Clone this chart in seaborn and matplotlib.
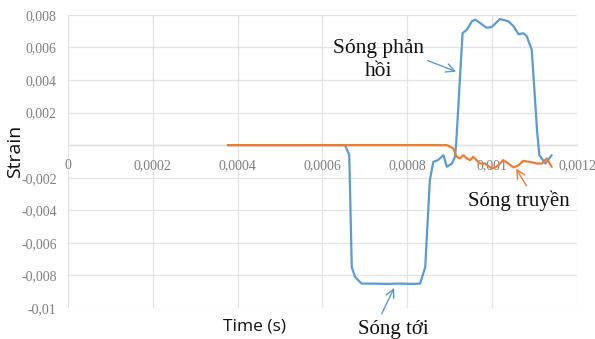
import matplotlib
matplotlib.use("Agg")
import matplotlib.pyplot as plt
import seaborn as sns
import pandas as pd

# Blue series (incident + reflected wave)
blue_time = [0.000377, 0.00064, 0.000653, 0.000663, 0.000669, 0.000677, 0.000692, 0.00072, 0.00075,
             0.00078, 0.00081, 0.00083, 0.000842, 0.000853, 0.000861, 0.000872, 0.000885, 0.000893,
             0.000905, 0.000912, 0.000915, 0.00093, 0.00094, 0.000952, 0.00096, 0.000971, 0.000987,
             0.000999, 0.001018, 0.001038, 0.00105, 0.001062, 0.001073, 0.001081, 0.001093, 0.001106,
             0.001111, 0.001125, 0.00114]
blue_strain = [0.0, 0.0, 0.0, -0.0006, -0.0075, -0.0081, -0.0085, -0.0085, -0.00852,
               -0.0085, -0.00852, -0.0085, -0.0075, -0.00215, -0.00103, -0.00092, -0.00062, -0.00133,
               -0.00113, -0.00072, 0.0001, 0.00687, 0.00708, 0.0076, 0.0077, 0.0075, 0.0072,
               0.00725, 0.00774, 0.0076, 0.0073, 0.0068, 0.00687, 0.0067, 0.00585, 0.00072,
               -0.00062, -0.00113, -0.00062]

# Orange series (transmitted wave)
orange_time = [0.000377, 0.00085, 0.000893, 0.000908, 0.000916, 0.000924, 0.000932, 0.00094, 0.000948,
               0.000955, 0.000971, 0.000983, 0.000999, 0.00101, 0.001026, 0.001038, 0.00105, 0.001062,
               0.001073, 0.001089, 0.001105, 0.001117, 0.001128, 0.00114]
orange_strain = [0.0, 0.0, 0.0, -0.0002, -0.00072, -0.00082, -0.00062, -0.00082, -0.00092,
                 -0.00072, -0.00113, -0.00113, -0.00144, -0.00133, -0.00092, -0.00113, -0.00137, -0.00123,
                 -0.00097, -0.00103, -0.00113, -0.00113, -0.00082, -0.00133]

x_ticks = [0, 0.0002, 0.0004, 0.0006, 0.0008, 0.001, 0.0012]
x_labels = ["0", "0,0002", "0,0004", "0,0006", "0,0008", "0,001", "0,0012"]
y_ticks = [-0.01, -0.008, -0.006, -0.004, -0.002, 0, 0.002, 0.004, 0.006, 0.008]
y_labels = ["-0,01", "-0,008", "-0,006", "-0,004", "-0,002", "", "0,002", "0,004", "0,006", "0,008"]

sns.set_theme(style="white")
plt.rcParams['font.family'] = ['Liberation Serif', 'DejaVu Serif']

BLUE = "#5B9BD5"
ORANGE = "#ED7D31"

fig = plt.figure(figsize=(5.95, 3.39), dpi=100)
ax = fig.add_axes([0.114, 0.0914, 0.856, 0.865])

blue_df = pd.DataFrame({"t": blue_time, "s": blue_strain})
orange_df = pd.DataFrame({"t": orange_time, "s": orange_strain})
sns.lineplot(data=blue_df, x="t", y="s", ax=ax, color=BLUE, linewidth=1.6, estimator=None, sort=False)
sns.lineplot(data=orange_df, x="t", y="s", ax=ax, color=ORANGE, linewidth=1.6, estimator=None, sort=False)

ax.set_xlim(0, 0.0012)
ax.set_ylim(-0.01, 0.008)
ax.set_xticks(x_ticks)
ax.set_xticklabels(x_labels)
ax.set_yticks(y_ticks)
ax.set_yticklabels(y_labels)
ax.grid(True, color="#e3e3e3", linewidth=0.9)
ax.set_axisbelow(True)
for sp in ["top", "right", "left"]:
    ax.spines[sp].set_visible(False)
ax.spines["bottom"].set_position(("data", 0))
ax.spines["bottom"].set_color("#d0d0d0")
ax.spines["bottom"].set_linewidth(1.0)
ax.spines["bottom"].set_zorder(0)
ax.tick_params(axis="both", length=0, labelsize=10, labelcolor="#7f7f7f")
ax.tick_params(axis="x", pad=10)
ax.tick_params(axis="y", pad=8)
ax.set_xlabel("")
ax.set_ylabel("")

fig.text(0.026, 0.552, "Strain", rotation=90, ha="center", va="center",
         fontsize=14, family=["Open Sans", "DejaVu Sans"], color="#111111")
fig.text(0.428, 0.037, "Time (s)", ha="center", va="center",
         fontsize=12.5, family=["Open Sans", "DejaVu Sans"], color="#111111")

ax.annotate("Sóng phản\nhồi", xy=(0.000915, 0.00451), xytext=(0.000733, 0.0052),
            ha="center", va="center", fontsize=15.5, color="#111111", linespacing=1.3,
            arrowprops=dict(arrowstyle="->", color=BLUE, lw=1.0, shrinkA=0, shrinkB=0,
                            relpos=(0.97, 0.55)))
ax.annotate("Sóng truyền", xy=(0.001056, -0.00144), xytext=(0.001063, -0.0034),
            ha="center", va="center", fontsize=15, color="#111111",
            arrowprops=dict(arrowstyle="->", color=ORANGE, lw=1.0, shrinkA=1, shrinkB=0,
                            relpos=(0.6, 1.0)))
ax.annotate("Sóng tới", xy=(0.000769, -0.00876), xytext=(0.000766, -0.0113),
            ha="center", va="center", fontsize=15, color="#111111", annotation_clip=False,
            arrowprops=dict(arrowstyle="->", color=BLUE, lw=1.0, shrinkA=2, shrinkB=0,
                            relpos=(0.3, 1.0)))

fig.savefig("out.png", dpi=100)
